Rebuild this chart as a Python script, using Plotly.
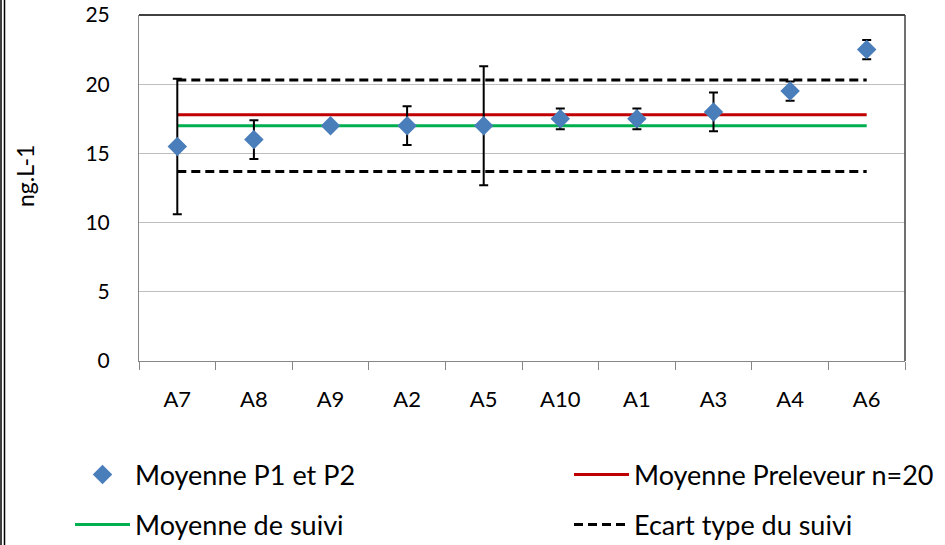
import plotly.graph_objects as go

# Sampling sites and their mean concentration (P1 and P2) with spread
sites = ["A7", "A8", "A9", "A2", "A5", "A10", "A1", "A3", "A4", "A6"]
mean_p1_p2 = [15.5, 16.0, 17.0, 17.0, 17.0, 17.5, 17.5, 18.0, 19.5, 22.5]
error_p1_p2 = [4.9, 1.4, 0.0, 1.4, 4.3, 0.75, 0.75, 1.4, 0.7, 0.7]

# Reference levels
mean_sampler = 17.8        # Moyenne Preleveur n=20
mean_followup = 17.0       # Moyenne de suivi
std_upper = 20.3           # Ecart type du suivi (upper bound)
std_lower = 13.7           # Ecart type du suivi (lower bound)

y_ticks = [0, 5, 10, 15, 20, 25]

FONT = "Lato"
BLUE = "#4a7ebb"
RED = "#c00000"
GREEN = "#00b050"

W, H = 945, 545
L, R, T, B = 139, 40, 15, 184
ph = H - T - B
pw = W - L - R

fig = go.Figure()

fig.add_trace(go.Scatter(
    x=sites, y=[mean_sampler] * len(sites), mode="lines",
    line=dict(color=RED, width=3), name="Moyenne Preleveur n=20",
    legend="legend2",
))
fig.add_trace(go.Scatter(
    x=sites, y=[mean_followup] * len(sites), mode="lines",
    line=dict(color=GREEN, width=3), name="Moyenne de suivi",
    legend="legend3",
))
fig.add_trace(go.Scatter(
    x=sites, y=[std_upper] * len(sites), mode="lines",
    line=dict(color="black", width=3, dash="9px,5px"),
    name="Ecart type du suivi", legendgroup="std", legend="legend4",
))
fig.add_trace(go.Scatter(
    x=sites, y=[std_lower] * len(sites), mode="lines",
    line=dict(color="black", width=3, dash="9px,5px"),
    name="Ecart type du suivi", legendgroup="std", showlegend=False,
    legend="legend4",
))
fig.add_trace(go.Scatter(
    x=sites, y=mean_p1_p2, mode="markers",
    marker=dict(symbol="diamond", size=15, color=BLUE),
    error_y=dict(type="data", array=error_p1_p2, visible=True,
                 color="black", thickness=2, width=4.5),
    name="Moyenne P1 et P2", legend="legend",
))


def legend_box(px, py):
    """One-entry legend anchored at a pixel position of the figure."""
    return dict(
        xref="container", yref="container",
        x=px / W, y=1 - py / H, xanchor="left", yanchor="middle",
        orientation="h", font=dict(family=FONT, size=27, color="black"),
        bgcolor="rgba(0,0,0,0)", itemwidth=55,
    )


fig.update_layout(
    width=W, height=H,
    margin=dict(l=L, r=R, t=T, b=B, autoexpand=False),
    paper_bgcolor="white", plot_bgcolor="white",
    font=dict(family=FONT, size=21, color="black"),
    showlegend=True,
    legend=legend_box(70, 475),
    legend2=legend_box(569, 475),
    legend3=legend_box(70, 525),
    legend4=legend_box(569, 525),
    xaxis=dict(
        type="category", range=[-0.5, len(sites) - 0.5],
        showgrid=False, showline=True, linecolor="#868686", linewidth=1,
        ticks="outside", tickson="boundaries", ticklen=8,
        tickcolor="#868686", tickfont=dict(family=FONT, size=22),
        ticklabelstandoff=19, fixedrange=True,
    ),
    yaxis=dict(
        range=[0, 25], tickvals=y_ticks, showgrid=True,
        gridcolor="#bfbfbf", gridwidth=1, zeroline=False,
        showline=True, linecolor="#868686", linewidth=1,
        ticks="", ticklabelstandoff=24,
        tickfont=dict(family=FONT, size=21),
        fixedrange=True,
    ),
    annotations=[dict(
        text="ng.L-1", textangle=-90, showarrow=False,
        xref="paper", yref="paper",
        x=(25 - L) / pw, y=(H - B - 176) / ph,
        xanchor="center", yanchor="middle",
        font=dict(family=FONT, size=23, color="black"),
    )],
)

# Plot-area frame (top and right edges) and the outer chart border on the left
fig.add_shape(type="line", xref="paper", yref="paper", x0=0, x1=1, y0=1, y1=1,
              line=dict(color="black", width=1.5))
fig.add_shape(type="line", xref="paper", yref="paper", x0=1, x1=1, y0=0, y1=1,
              line=dict(color="#404040", width=1.5))
for px in (1.0, 4.5):
    fig.add_shape(type="line", xref="paper", yref="paper",
                  x0=(px - L) / pw, x1=(px - L) / pw,
                  y0=-B / ph, y1=1 + T / ph,
                  line=dict(color="black", width=1.5))

fig.write_html("out.html")
